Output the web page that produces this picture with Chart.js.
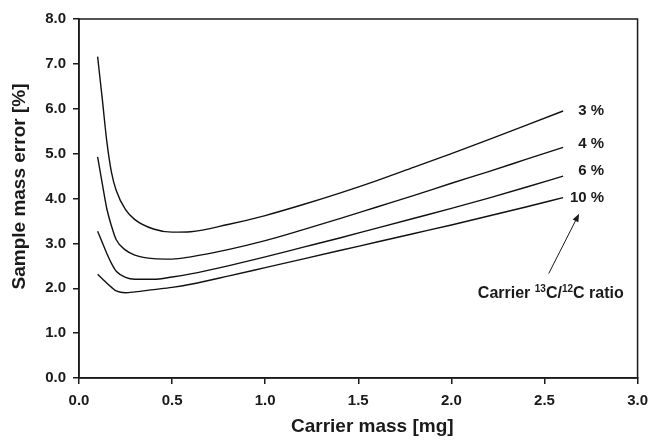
<!DOCTYPE html>
<html>
<head>
<meta charset="utf-8">
<script src="https://cdn.jsdelivr.net/npm/chart.js@4.4.1/dist/chart.umd.min.js"></script>
<style>
html,body{margin:0;padding:0;background:#ffffff;}
#wrap{width:656px;height:440px;}
</style>
</head>
<body>
<div id="wrap"><canvas id="c" width="656" height="440"></canvas></div>
<script>
// ---- data ----
const carrierMass = [0.1, 0.125, 0.15, 0.175, 0.2, 0.25, 0.3, 0.4, 0.5, 0.6, 0.8, 1.0, 1.2, 1.4, 1.6, 1.8, 2.0, 2.2, 2.4, 2.6];
const err3  = [7.16, 6.22, 5.25, 4.57, 4.18, 3.75, 3.53, 3.32, 3.25, 3.26, 3.42, 3.62, 3.86, 4.12, 4.40, 4.70, 5.00, 5.31, 5.63, 5.95];
const err4  = [4.93, 4.33, 3.76, 3.38, 3.08, 2.85, 2.74, 2.66, 2.65, 2.70, 2.86, 3.06, 3.30, 3.55, 3.81, 4.07, 4.34, 4.60, 4.87, 5.14];
const err6  = [3.27, 3.02, 2.77, 2.55, 2.38, 2.24, 2.20, 2.20, 2.25, 2.32, 2.50, 2.70, 2.91, 3.12, 3.34, 3.56, 3.78, 4.01, 4.25, 4.50];
const err10 = [2.31, 2.21, 2.11, 2.02, 1.94, 1.90, 1.92, 1.97, 2.02, 2.09, 2.27, 2.46, 2.65, 2.84, 3.03, 3.22, 3.41, 3.61, 3.81, 4.02];
const seriesLabels = ['3 %', '4 %', '6 %', '10 %'];
const xTitle = 'Carrier mass [mg]';
const yTitle = 'Sample mass error [%]';
const captionParts = ['Carrier ', '13', 'C/', '12', 'C ratio'];
const arrowFrom = {x: 2.523, y: 2.33};
const arrowTo = {x: 2.686, y: 3.66};

const seriesValues = [err3, err4, err6, err10];
const FONT = '"Liberation Sans", Arial, Helvetica, sans-serif';
const INK = '#1a1a1a';

const datasets = seriesValues.map((vals, i) => ({
  label: seriesLabels[i],
  data: carrierMass.map((m, j) => ({x: m, y: vals[j]})),
  borderColor: '#111',
  borderWidth: 1.4,
  pointRadius: 0,
  fill: false,
  cubicInterpolationMode: 'monotone'
}));

const labelDy = [0, -3, -5, 0];

const decor = {
  id: 'decor',
  afterDraw(chart) {
    const ctx = chart.ctx;
    const a = chart.chartArea;
    const xs = chart.scales.x, ys = chart.scales.y;
    ctx.save();
    // frame
    ctx.strokeStyle = INK;
    ctx.lineWidth = 1.5;
    ctx.strokeRect(a.left, a.top, a.right - a.left, a.bottom - a.top);

    // series end labels
    ctx.fillStyle = INK;
    ctx.font = 'bold 15px ' + FONT;
    ctx.textAlign = 'right';
    ctx.textBaseline = 'middle';
    seriesValues.forEach((vals, i) => {
      const n = vals.length - 1;
      const px = xs.getPixelForValue(carrierMass[n]);
      const py = ys.getPixelForValue(vals[n]);
      ctx.fillText(seriesLabels[i], px + 41, py + labelDy[i]);
    });

    // arrow
    const x1 = xs.getPixelForValue(arrowFrom.x), y1 = ys.getPixelForValue(arrowFrom.y);
    const x2 = xs.getPixelForValue(arrowTo.x), y2 = ys.getPixelForValue(arrowTo.y);
    const ang = Math.atan2(y2 - y1, x2 - x1);
    const hl = 8, hw = 3.2;
    ctx.lineWidth = 1;
    ctx.strokeStyle = INK;
    ctx.beginPath();
    ctx.moveTo(x1, y1);
    ctx.lineTo(x2 - Math.cos(ang) * hl * 0.8, y2 - Math.sin(ang) * hl * 0.8);
    ctx.stroke();
    ctx.beginPath();
    ctx.moveTo(x2, y2);
    ctx.lineTo(x2 - Math.cos(ang) * hl - Math.sin(ang) * hw, y2 - Math.sin(ang) * hl + Math.cos(ang) * hw);
    ctx.lineTo(x2 - Math.cos(ang) * hl + Math.sin(ang) * hw, y2 - Math.sin(ang) * hl - Math.cos(ang) * hw);
    ctx.closePath();
    ctx.fill();

    // caption with superscripts
    const big = 'bold 16px ' + FONT, small = 'bold 10px ' + FONT;
    const widths = captionParts.map((t, i) => { ctx.font = (i % 2 === 1) ? small : big; return ctx.measureText(t).width; });
    const total = widths.reduce((s, w) => s + w, 0);
    let cx = x1 - total / 2 + 2;
    const baseY = y1 + 25;
    ctx.textAlign = 'left';
    ctx.textBaseline = 'alphabetic';
    captionParts.forEach((t, i) => {
      const sup = i % 2 === 1;
      ctx.font = sup ? small : big;
      ctx.fillText(t, cx, sup ? baseY - 6 : baseY);
      cx += widths[i];
    });

    // axis titles
    ctx.font = 'bold 19px ' + FONT;
    ctx.textAlign = 'center';
    ctx.textBaseline = 'middle';
    ctx.fillText(xTitle, (a.left + a.right) / 2 + 14, a.bottom + 49);
    ctx.save();
    ctx.translate(20, (a.top + a.bottom) / 2 - 12);
    ctx.rotate(-Math.PI / 2);
    ctx.fillText(yTitle, 0, 0);
    ctx.restore();
    ctx.restore();
  }
};

const axisCommon = {
  type: 'linear',
  grid: {display: true, drawOnChartArea: false, drawTicks: true, tickLength: 6, color: INK, lineWidth: 1.5},
  border: {display: true, color: INK, width: 1.5},
};

new Chart(document.getElementById('c'), {
  type: 'line',
  data: {datasets},
  options: {
    responsive: false,
    animation: false,
    devicePixelRatio: 1,
    layout: {padding: {left: 0, right: 14, top: 19, bottom: 0}},
    plugins: {legend: {display: false}, tooltip: {enabled: false}},
    scales: {
      x: Object.assign({}, axisCommon, {
        min: 0, max: 3,
        ticks: {stepSize: 0.5, color: INK, font: {family: FONT, size: 15, weight: 'bold'}, padding: 8, maxRotation: 0,
                callback: v => Number(v).toFixed(1)},
        afterFit: s => { s.height = 62; }
      }),
      y: Object.assign({}, axisCommon, {
        min: 0, max: 8,
        ticks: {stepSize: 1, color: INK, font: {family: FONT, size: 15, weight: 'bold'}, padding: 7,
                callback: v => Number(v).toFixed(1)},
        afterFit: s => { s.width = 79; }
      })
    }
  },
  plugins: [decor]
});
</script>
</body>
</html>
